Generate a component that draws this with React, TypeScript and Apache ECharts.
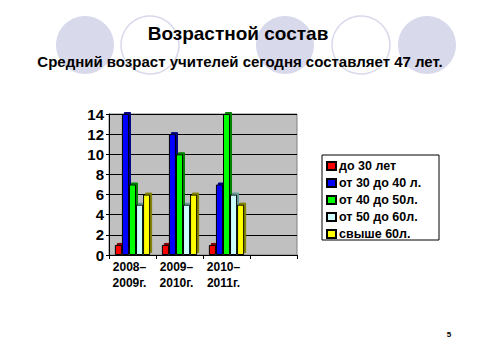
import React, { useEffect, useRef } from "react";
import * as echarts from "echarts";

const categories = ["2008–\n2009г.", "2009–\n2010г.", "2010–\n2011г.", ""];
const seriesNames = ["до 30 лет", "от 30 до 40 л.", "от 40 до 50л.", "от 50 до 60л.", "свыше 60л."];
const under30 = [1, 1, 1, null];
const from30to40 = [14, 12, 7, null];
const from40to50 = [7, 10, 14, null];
const from50to60 = [5, 5, 6, null];
const over60 = [6, 6, 5, null];
const seriesColors = ["#ff0000", "#0000ff", "#00ff00", "#ccffff", "#ffff00"];
const sideColors = ["#800000", "#000080", "#008000", "#669999", "#808000"];
const yTicks = { min: 0, max: 14, interval: 2 };

const FONT = "Arial, 'Liberation Sans', sans-serif";

export default function App() {
  const ref = useRef<HTMLDivElement>(null);
  useEffect(() => {
    if (!ref.current) return;
    const chart = echarts.init(ref.current, null, { renderer: "svg" });
    const values = [under30, from30to40, from40to50, from50to60, over60];
    const circles: any[] = [];
    const circleDefs = [
      { x: 85, filled: true },
      { x: 150, filled: false },
      { x: 285, filled: true },
      { x: 361, filled: false },
      { x: 427, filled: true },
    ];
    circleDefs.forEach((c) => {
      circles.push({
        type: "circle",
        shape: { cx: c.x, cy: 45, r: 29 },
        style: c.filled
          ? { fill: "#d9d9ec" }
          : { fill: "#ffffff", stroke: "#d9d9ec", lineWidth: 1.5 },
        z: 0,
      });
    });
    chart.setOption({
      animation: false,
      backgroundColor: "#ffffff",
      textStyle: { fontFamily: FONT },
      graphic: [
        ...circles,
        {
          type: "text",
          x: 238,
          y: 33,
          style: {
            text: "Возрастной состав",
            font: `bold 19px ${FONT}`,
            fill: "#000",
            align: "center",
            verticalAlign: "middle",
          },
          z: 5,
        },
        {
          type: "text",
          x: 240,
          y: 61,
          style: {
            text: "Средний возраст учителей сегодня составляет 47 лет.",
            font: `bold 15px ${FONT}`,
            fill: "#000",
            align: "center",
            verticalAlign: "middle",
          },
          z: 5,
        },
        {
          type: "rect",
          shape: { x: 322, y: 155, width: 117, height: 85 },
          style: { fill: "#ffffff", stroke: "#000000", lineWidth: 1 },
          z: 1,
        },
        {
          type: "text",
          x: 449,
          y: 334,
          style: {
            text: "5",
            font: `bold 8px ${FONT}`,
            fill: "#000",
            align: "center",
            verticalAlign: "middle",
          },
        },
      ],
      legend: {
        show: true,
        orient: "vertical",
        left: 326,
        top: 159,
        padding: 0,
        itemWidth: 9,
        itemHeight: 8,
        itemGap: 3,
        icon: "rect",
        data: seriesNames,
        textStyle: {
          fontFamily: FONT,
          fontWeight: "bold",
          fontSize: 12.5,
          lineHeight: 14,
          color: "#000",
          padding: [0, 0, 0, -2],
        },
        z: 3,
      },
      grid: {
        left: 109,
        right: 184,
        top: 114,
        bottom: 106,
        show: true,
        backgroundColor: "#c0c0c0",
        borderColor: "#808080",
        borderWidth: 1,
      },
      xAxis: {
        type: "category",
        data: categories,
        axisLine: { show: true, lineStyle: { color: "#000", width: 1 } },
        axisTick: { show: true, length: 4, lineStyle: { color: "#000" } },
        axisLabel: {
          color: "#000",
          fontFamily: FONT,
          fontWeight: "bold",
          fontSize: 12,
          lineHeight: 16,
          margin: 4,
          padding: [0, 6, 0, 0],
        },
      },
      yAxis: {
        type: "value",
        min: yTicks.min,
        max: yTicks.max,
        interval: yTicks.interval,
        axisLine: { show: true, lineStyle: { color: "#000", width: 1 } },
        axisTick: { show: true, length: 3, lineStyle: { color: "#000" } },
        splitLine: { show: true, lineStyle: { color: "#000", width: 1 } },
        axisLabel: {
          color: "#000",
          fontFamily: FONT,
          fontWeight: "bold",
          fontSize: 15,
          margin: 5,
        },
      },
      series: seriesNames.map((name, i) => ({
        name,
        type: "bar",
        data: values[i],
        barGap: "0%",
        barCategoryGap: "25%",
        itemStyle: {
          color: seriesColors[i],
          borderColor: "#000",
          borderWidth: 1,
          shadowColor: sideColors[i],
          shadowBlur: 0,
          shadowOffsetX: 2,
          shadowOffsetY: -2,
        },
        emphasis: { disabled: true },
      })),
    });
    return () => chart.dispose();
  }, []);
  return <div ref={ref} style={{ width: 481, height: 361, margin: -8 }} />;
}
